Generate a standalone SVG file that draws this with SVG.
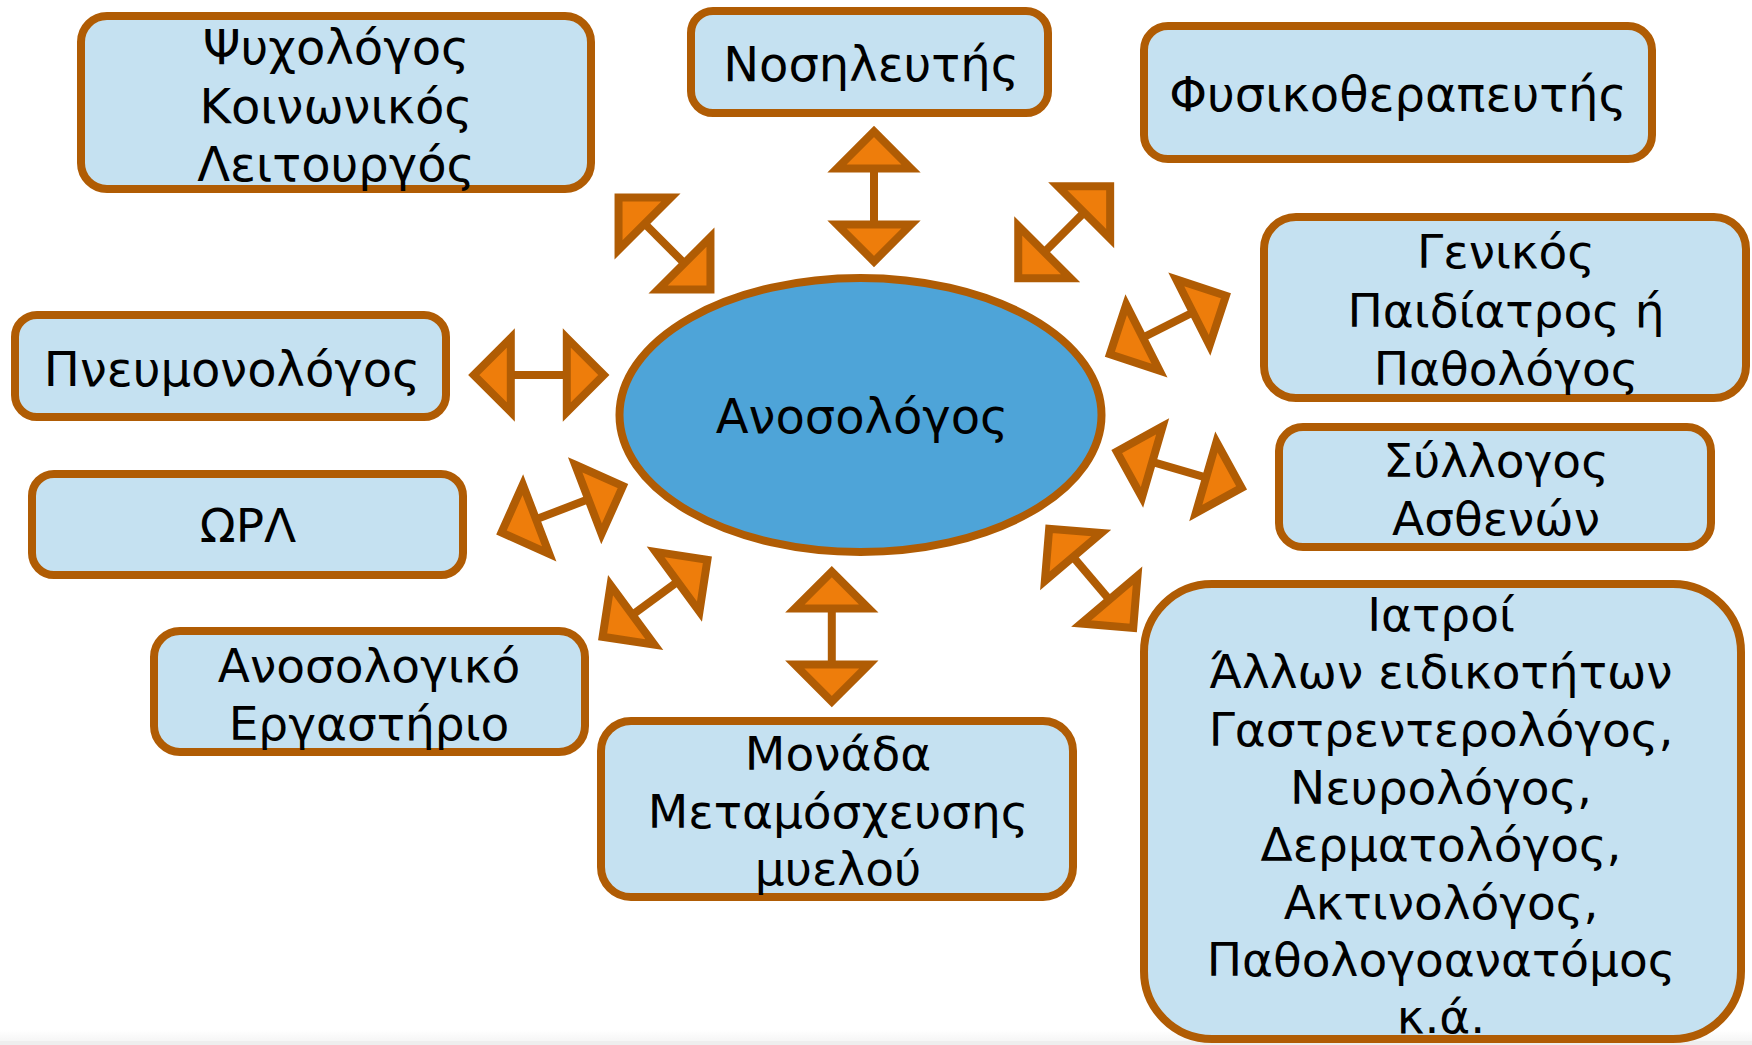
<svg xmlns="http://www.w3.org/2000/svg" xmlns:xlink="http://www.w3.org/1999/xlink" width="1752" height="1045" viewBox="0 0 1752 1045">
  <style>
    .box { fill: #C5E1F1; stroke: #B05C04; stroke-width: 8; }
    .hub { fill: #4EA4D8; stroke: #B05C04; stroke-width: 8; }
    .lbl { font-family: "DejaVu Sans", Verdana, sans-serif; font-size: 47px; text-anchor: middle; fill: #000; }
    .lg { font-size: 48px; }
    .shaft { stroke: #B05C04; stroke-width: 8; fill: none; }
    .head { fill: #EE7D0B; stroke: #B05C04; stroke-width: 8; stroke-linejoin: miter; stroke-miterlimit: 4; }
  </style>
  <defs>
    <!-- arrowhead pointing along +x, base 28 units from the arrow centre -->
    <polygon id="head" class="head" points="28,-37 65,0 28,37"/>
    <!-- double-headed connector of fixed length, centred on the origin -->
    <g id="dblarrow">
      <line class="shaft" x1="-30" y1="0" x2="30" y2="0"/>
      <use xlink:href="#head"/>
      <use xlink:href="#head" transform="scale(-1,1)"/>
    </g>
    <linearGradient id="floor" x1="0" y1="0" x2="0" y2="1">
      <stop offset="0" stop-color="#ffffff"/>
      <stop offset="0.7" stop-color="#f6f6f6"/>
      <stop offset="0.75" stop-color="#eeeeee"/>
      <stop offset="1" stop-color="#eeeeee"/>
    </linearGradient>
  </defs>

  <rect x="0" y="0" width="1752" height="1045" fill="#ffffff"/>
  <rect x="0" y="1030" width="1752" height="15" fill="url(#floor)"/>

  <!-- connectors between the central node and the surrounding specialties -->
  <g id="connectors">
    <use xlink:href="#dblarrow" transform="translate(664.5,243.5) rotate(45)"/>
    <use xlink:href="#dblarrow" transform="translate(874,196.5) rotate(90)"/>
    <use xlink:href="#dblarrow" transform="translate(1064.2,232.3) rotate(-45)"/>
    <use xlink:href="#dblarrow" transform="translate(1167.9,325) rotate(-26.8)"/>
    <use xlink:href="#dblarrow" transform="translate(1179.2,469.7) rotate(16.2)"/>
    <use xlink:href="#dblarrow" transform="translate(1091.2,578.3) rotate(49.7)"/>
    <use xlink:href="#dblarrow" transform="translate(831.8,636.6) rotate(90)"/>
    <use xlink:href="#dblarrow" transform="translate(655,598.3) rotate(-36.3)"/>
    <use xlink:href="#dblarrow" transform="translate(562.2,509.3) rotate(-20.9)"/>
    <use xlink:href="#dblarrow" transform="translate(538.8,375) rotate(0)"/>
  </g>

  <g id="node-anosologos">
    <ellipse class="hub" cx="860.5" cy="415" rx="241" ry="137"/>
    <text class="lbl lg" x="862" y="433">Ανοσολόγος</text>
  </g>

  <g id="node-psychologos">
    <rect class="box" x="81" y="16" width="510" height="173" rx="26"/>
    <text class="lbl lg" x="336" y="64">Ψυχολόγος</text>
    <text class="lbl lg" x="336" y="123">Κοινωνικός</text>
    <text class="lbl lg" x="336" y="181">Λειτουργός</text>
  </g>

  <g id="node-nosileftis">
    <rect class="box" x="691" y="11" width="357" height="102" rx="22"/>
    <text class="lbl lg" x="871" y="81">Νοσηλευτής</text>
  </g>

  <g id="node-fysikotherapeftis">
    <rect class="box" x="1144" y="26" width="508" height="133" rx="24"/>
    <text class="lbl lg" x="1398" y="111">Φυσικοθεραπευτής</text>
  </g>

  <g id="node-genikos">
    <rect class="box" x="1264" y="217" width="482" height="181" rx="32"/>
    <text class="lbl" x="1506" y="268">Γενικός</text>
    <text class="lbl" x="1506" y="327">Παιδίατρος ή</text>
    <text class="lbl" x="1506" y="385">Παθολόγος</text>
  </g>

  <g id="node-syllogos">
    <rect class="box" x="1279" y="427" width="432" height="120" rx="24"/>
    <text class="lbl" x="1496" y="477">Σύλλογος</text>
    <text class="lbl" x="1496" y="535">Ασθενών</text>
  </g>

  <g id="node-iatroi">
    <rect class="box" x="1144" y="584" width="597" height="455" rx="68"/>
    <text class="lbl" x="1441" y="631">Ιατροί</text>
    <text class="lbl" x="1441" y="688">Άλλων ειδικοτήτων</text>
    <text class="lbl" x="1441" y="746">Γαστρεντερολόγος,</text>
    <text class="lbl" x="1441" y="804">Νευρολόγος,</text>
    <text class="lbl" x="1441" y="861">Δερματολόγος,</text>
    <text class="lbl" x="1441" y="919">Ακτινολόγος,</text>
    <text class="lbl" x="1441" y="976">Παθολογοανατόμος</text>
    <text class="lbl" x="1441" y="1033">κ.ά.</text>
  </g>

  <g id="node-pnevmonologos">
    <rect class="box" x="15" y="315" width="431" height="102" rx="22"/>
    <text class="lbl lg" x="232" y="386">Πνευμονολόγος</text>
  </g>

  <g id="node-orl">
    <rect class="box" x="32" y="474" width="431" height="101" rx="22"/>
    <text class="lbl" x="248" y="542">ΩΡΛ</text>
  </g>

  <g id="node-ergastirio">
    <rect class="box" x="154" y="631" width="431" height="121" rx="26"/>
    <text class="lbl" x="369" y="682">Ανοσολογικό</text>
    <text class="lbl" x="369" y="740">Εργαστήριο</text>
  </g>

  <g id="node-monada">
    <rect class="box" x="601" y="721" width="472" height="176" rx="30"/>
    <text class="lbl" x="838" y="770">Μονάδα</text>
    <text class="lbl" x="838" y="828">Μεταμόσχευσης</text>
    <text class="lbl" x="838" y="885">μυελού</text>
  </g>
</svg>
